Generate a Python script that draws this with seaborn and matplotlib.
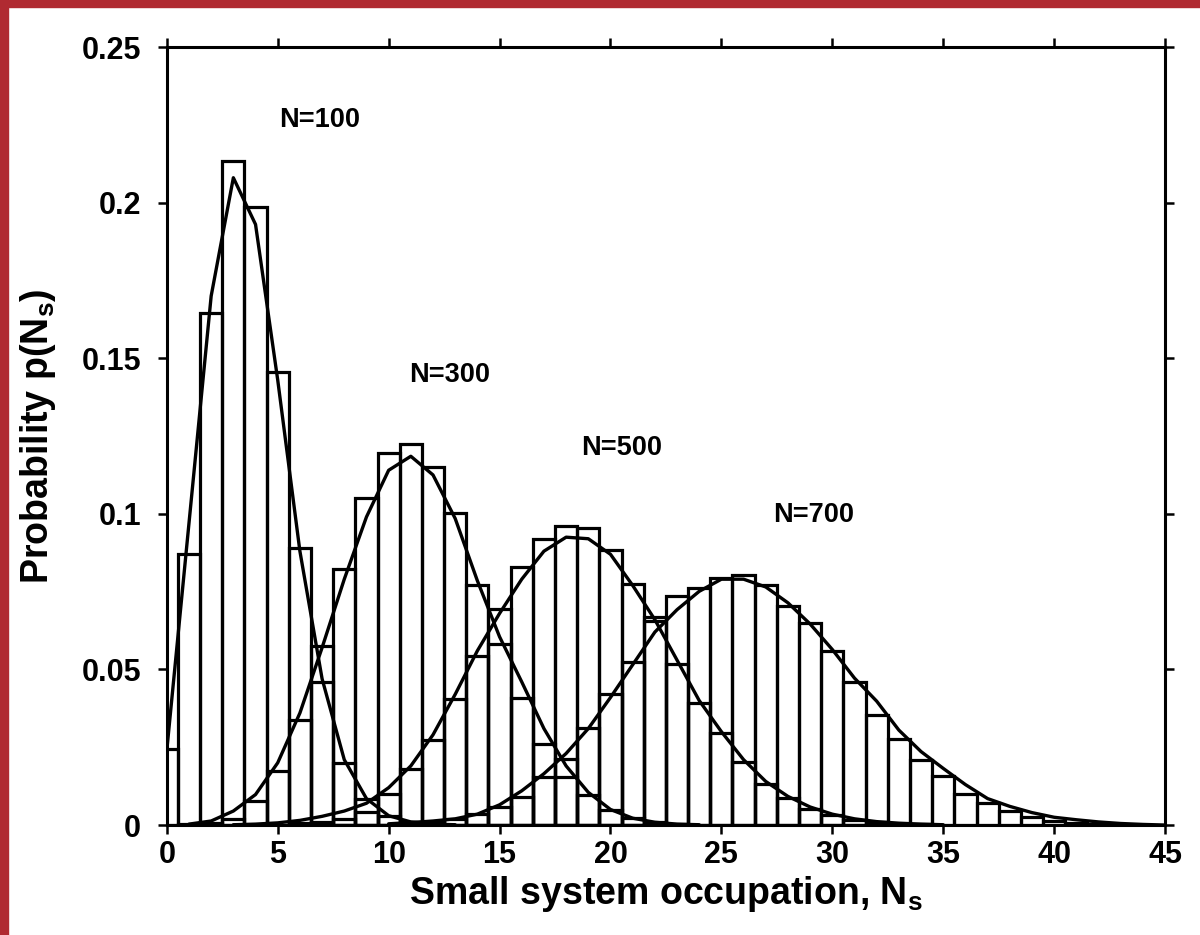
import matplotlib
matplotlib.use("Agg")
import matplotlib.pyplot as plt
from matplotlib.patches import Rectangle
import numpy as np
import pandas as pd
import seaborn as sns

# histogram heights p(Ns); one bar per integer Ns
ns_100 = list(range(0, 13))
hist_100 = [0.0245, 0.087, 0.1646, 0.2134, 0.1987, 0.1457, 0.089, 0.046,
            0.0199, 0.0085, 0.003, 0.001, 0.0003]

ns_300 = list(range(1, 24))
hist_300 = [0.0002, 0.0008, 0.002, 0.0078, 0.0173, 0.0338, 0.0576, 0.0822,
            0.1052, 0.1196, 0.1223, 0.1151, 0.1004, 0.0772, 0.0582, 0.0409,
            0.0261, 0.0155, 0.0095, 0.0047, 0.0022, 0.0009, 0.0003]

ns_500 = list(range(6, 35))
hist_500 = [0.0005, 0.001, 0.002, 0.0043, 0.0101, 0.0181, 0.0272, 0.0405,
            0.0544, 0.0694, 0.0828, 0.0918, 0.0961, 0.0953, 0.0884, 0.0776,
            0.0667, 0.0518, 0.0393, 0.0296, 0.0203, 0.0133, 0.0088, 0.0053,
            0.0031, 0.0017, 0.0009, 0.0004, 0.0002]

ns_700 = list(range(12, 44))
hist_700 = [0.001, 0.002, 0.0035, 0.0059, 0.0091, 0.0155, 0.0211, 0.0312,
            0.0421, 0.0523, 0.0656, 0.0735, 0.0763, 0.0795, 0.0804, 0.0772,
            0.0705, 0.0649, 0.056, 0.0461, 0.0352, 0.0275, 0.021, 0.0158,
            0.0101, 0.0072, 0.0045, 0.0026, 0.0013, 0.0007, 0.0003, 0.0001]

# fitted curves, read at integer Ns
fit_x_100 = list(range(0, 14))
fit_100 = [0.024, 0.097, 0.170, 0.208, 0.193, 0.143, 0.088, 0.047, 0.021,
           0.0085, 0.003, 0.001, 0.0003, 0.0001]

fit_x_300 = list(range(1, 25))
fit_300 = [0.0003, 0.0013, 0.0045, 0.0098, 0.02, 0.036, 0.057, 0.079, 0.099,
           0.114, 0.1185, 0.1125, 0.0985, 0.0785, 0.0605, 0.046, 0.031, 0.019,
           0.0105, 0.005, 0.0022, 0.0009, 0.0003, 0.0001]

fit_x_500 = list(range(3, 36))
fit_500 = [0.0001, 0.0003, 0.0007, 0.0015, 0.0028, 0.0045, 0.007, 0.012,
           0.019, 0.029, 0.042, 0.056, 0.068, 0.079, 0.088, 0.0925, 0.092,
           0.087, 0.077, 0.066, 0.053, 0.04, 0.03, 0.021, 0.014, 0.0092,
           0.0058, 0.0035, 0.002, 0.0011, 0.0006, 0.0003, 0.0001]

fit_x_700 = list(range(10, 46))
fit_700 = [0.0004, 0.0008, 0.0013, 0.002, 0.0035, 0.0065, 0.011, 0.0165,
           0.023, 0.031, 0.041, 0.0515, 0.062, 0.0692, 0.0751, 0.079, 0.079,
           0.0765, 0.0714, 0.0646, 0.0564, 0.0472, 0.0398, 0.0305, 0.0236,
           0.0182, 0.013, 0.0085, 0.006, 0.004, 0.0025, 0.0017, 0.001,
           0.0005, 0.0002, 0.0]

labels = ["N=100", "N=300", "N=500", "N=700"]
label_x = [6.9, 12.75, 20.5, 29.15]
label_y = [0.2265, 0.1445, 0.121, 0.0995]

xticks = [0, 5, 10, 15, 20, 25, 30, 35, 40, 45]
yticks = [0, 0.05, 0.1, 0.15, 0.2, 0.25]
ytick_labels = ["0", "0.05", "0.1", "0.15", "0.2", "0.25"]

bars = pd.concat([
    pd.DataFrame({"ns": ns_100, "p": hist_100, "N": labels[0]}),
    pd.DataFrame({"ns": ns_300, "p": hist_300, "N": labels[1]}),
    pd.DataFrame({"ns": ns_500, "p": hist_500, "N": labels[2]}),
    pd.DataFrame({"ns": ns_700, "p": hist_700, "N": labels[3]}),
], ignore_index=True)

fits = pd.concat([
    pd.DataFrame({"ns": fit_x_100, "p": fit_100, "N": labels[0]}),
    pd.DataFrame({"ns": fit_x_300, "p": fit_300, "N": labels[1]}),
    pd.DataFrame({"ns": fit_x_500, "p": fit_500, "N": labels[2]}),
    pd.DataFrame({"ns": fit_x_700, "p": fit_700, "N": labels[3]}),
], ignore_index=True)

sns.set_theme(style="ticks")
plt.rcParams["font.family"] = ["Liberation Sans", "DejaVu Sans"]
plt.rcParams["font.weight"] = "bold"
plt.rcParams["text.color"] = "black"
plt.rcParams["axes.labelcolor"] = "black"
plt.rcParams["mathtext.fontset"] = "custom"
plt.rcParams["mathtext.rm"] = "Liberation Sans:bold"
plt.rcParams["mathtext.bf"] = "Liberation Sans:bold"

fig = plt.figure(figsize=(12, 9.35), dpi=100)
ax = fig.add_axes([0.139, 0.1176, 0.8319, 0.8321])

black = ["black"] * 4
sns.histplot(data=bars, x="ns", weights="p", hue="N", discrete=True,
             fill=False, element="bars", palette=black, legend=False,
             linewidth=2.3, common_bins=False, ax=ax)
sns.lineplot(data=fits, x="ns", y="p", hue="N", palette=black,
             legend=False, linewidth=2.4, estimator=None, ax=ax)

for txt, x, y in zip(labels, label_x, label_y):
    ax.text(x, y, txt, ha="center", va="center", fontsize=19.5,
            fontweight="bold", color="black")

ax.set_xlim(0, 45)
ax.set_ylim(0, 0.25)
ax.set_xticks(xticks)
ax.set_yticks(yticks)
ax.set_yticklabels(ytick_labels)
ax.tick_params(which="both", direction="out", top=True, right=True,
               labeltop=False, labelright=False, length=6.5, width=1.8,
               labelsize=22, color="black", labelcolor="black")
ax.tick_params(axis="y", pad=12)
ax.tick_params(axis="x", pad=4)
for s in ax.spines.values():
    s.set_linewidth(2.2)
    s.set_color("black")

ax.set_xlabel(r"Small system occupation, N$_\mathrm{s}$", fontsize=27,
              fontweight="bold", labelpad=3)
ax.set_ylabel(r"Probability p(N$_\mathrm{s}$)", fontsize=27,
              fontweight="bold", labelpad=17)

# red frame strips at the left and top edges of the picture
fig.patches.append(Rectangle((0, 0), 8 / 1200, 1, transform=fig.transFigure,
                             color="#b02a31", zorder=10))
fig.patches.append(Rectangle((0, 1 - 7 / 935), 1, 7 / 935,
                             transform=fig.transFigure, color="#b02a31",
                             zorder=10))

fig.savefig("out.png", dpi=100)
